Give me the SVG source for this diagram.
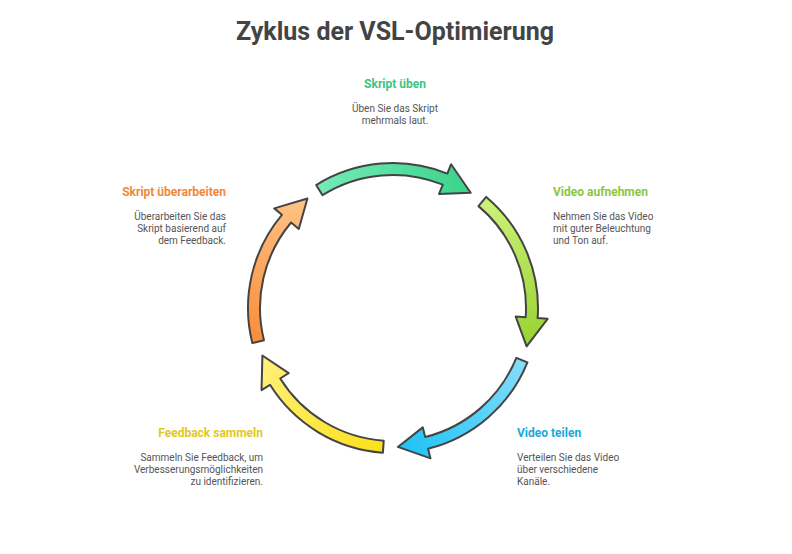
<svg xmlns="http://www.w3.org/2000/svg" width="792" height="554" viewBox="0 0 792 554">
<style>
text{font-family:Roboto,"Liberation Sans",sans-serif}
.t{font-size:25px;font-weight:bold;fill:#444}
.h{font-size:12px;font-weight:bold}
.d{font-size:10px;fill:#555}
.a{stroke:#444;stroke-width:2;stroke-linejoin:round}
</style>
<defs>
<linearGradient id="g0" x1="0" y1="0" x2="1" y2="0"><stop offset="0" stop-color="#74EBB8"/><stop offset="1" stop-color="#3AD38A"/></linearGradient>
<linearGradient id="g1" x1="0" y1="0" x2="1" y2="0"><stop offset="0" stop-color="#CDF27A"/><stop offset="1" stop-color="#9AD232"/></linearGradient>
<linearGradient id="g2" x1="0" y1="0" x2="1" y2="0"><stop offset="0" stop-color="#86DEFA"/><stop offset="1" stop-color="#1EC2F6"/></linearGradient>
<linearGradient id="g3" x1="0" y1="0" x2="1" y2="0"><stop offset="0" stop-color="#FCE01A"/><stop offset="1" stop-color="#FFF07A"/></linearGradient>
<linearGradient id="g4" x1="0" y1="0" x2="1" y2="0"><stop offset="0" stop-color="#F98C38"/><stop offset="1" stop-color="#FFC487"/></linearGradient>
<path id="arr" d="M316.16,185.04 A145,145 0 0 1 447.32,173.56 L451.06,164.28 L470.73,192.77 L439.08,193.95 L442.82,184.68 A133,133 0 0 0 322.52,195.22 Z"/>
</defs>
<text class="t" x="395" y="40" text-anchor="middle">Zyklus der VSL-Optimierung</text>
<g id="connectors">
<use href="#arr" class="a" fill="url(#g0)"/>
<use href="#arr" class="a" fill="url(#g1)" transform="rotate(72 393 308)"/>
<use href="#arr" class="a" fill="url(#g2)" transform="rotate(144 393 308)"/>
<use href="#arr" class="a" fill="url(#g3)" transform="rotate(216 393 308)"/>
<use href="#arr" class="a" fill="url(#g4)" transform="rotate(288 393 308)"/>
</g>
<g id="n1" text-anchor="middle">
<text class="h" x="395" y="88" fill="#3CC583">Skript üben</text>
<text class="d" x="395" y="112">Üben Sie das Skript</text>
<text class="d" x="395" y="124">mehrmals laut.</text>
</g>
<g id="n2">
<text class="h" x="553" y="196" fill="#8CC63F">Video aufnehmen</text>
<text class="d" x="553" y="220">Nehmen Sie das Video</text>
<text class="d" x="553" y="232">mit guter Beleuchtung</text>
<text class="d" x="553" y="244">und Ton auf.</text>
</g>
<g id="n3">
<text class="h" x="517" y="437" fill="#1BA8DA">Video teilen</text>
<text class="d" x="517" y="461">Verteilen Sie das Video</text>
<text class="d" x="517" y="473">über verschiedene</text>
<text class="d" x="517" y="485">Kanäle.</text>
</g>
<g id="n4" text-anchor="end">
<text class="h" x="263" y="437" fill="#E2C81C">Feedback sammeln</text>
<text class="d" x="263" y="461">Sammeln Sie Feedback, um</text>
<text class="d" x="263" y="473">Verbesserungsmöglichkeiten</text>
<text class="d" x="263" y="485">zu identifizieren.</text>
</g>
<g id="n5" text-anchor="end">
<text class="h" x="226" y="196" fill="#F0883A">Skript überarbeiten</text>
<text class="d" x="226" y="220">Überarbeiten Sie das</text>
<text class="d" x="226" y="232">Skript basierend auf</text>
<text class="d" x="226" y="244">dem Feedback.</text>
</g>
</svg>
